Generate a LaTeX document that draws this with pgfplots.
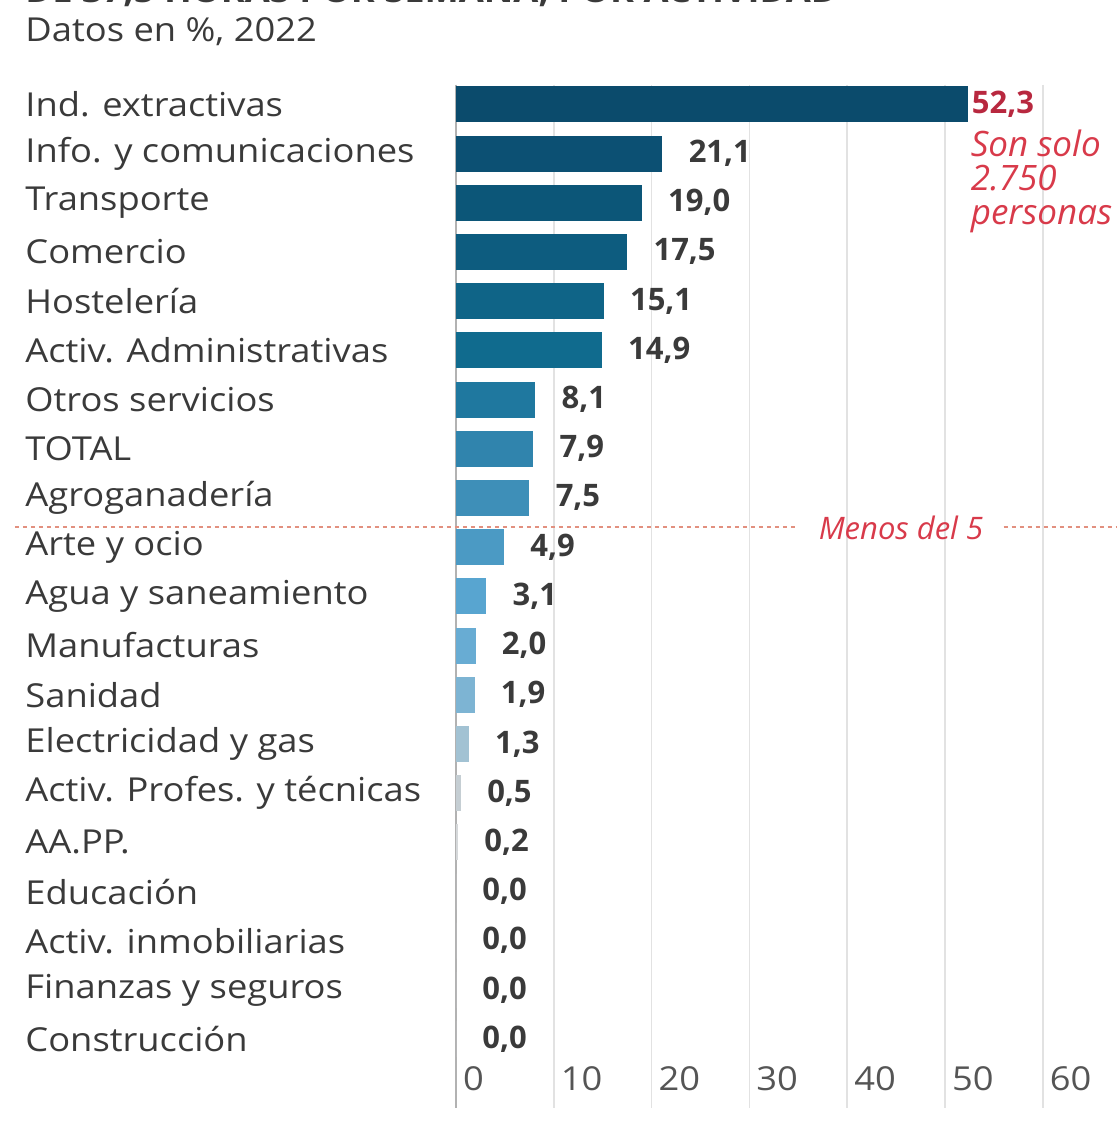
\documentclass[border=0pt]{standalone}
\usepackage{fontspec}
\setmainfont{Open Sans}
\newfontfamily\lab{Open Sans}[FakeStretch=1.1]
\usepackage{pgfplots}
\pgfplotsset{compat=1.18}

\definecolor{txt}{HTML}{3A3A3A}
\definecolor{tick}{HTML}{555555}
\definecolor{grd}{HTML}{E2E2E2}
\definecolor{redd}{HTML}{B8283F}
\definecolor{redl}{HTML}{D83A4A}
\definecolor{dashc}{HTML}{E2907F}
\definecolor{c0}{HTML}{0B4B6C}
\definecolor{c1}{HTML}{0C5073}
\definecolor{c2}{HTML}{0C5678}
\definecolor{c3}{HTML}{0D5C7F}
\definecolor{c4}{HTML}{0F6487}
\definecolor{c5}{HTML}{106B8E}
\definecolor{c6}{HTML}{1F789F}
\definecolor{c7}{HTML}{3084AD}
\definecolor{c8}{HTML}{3E8FB8}
\definecolor{c9}{HTML}{4B9AC4}
\definecolor{c10}{HTML}{58A5D0}
\definecolor{c11}{HTML}{68ACD3}
\definecolor{c12}{HTML}{7DB4D3}
\definecolor{c13}{HTML}{A2C2D3}
\definecolor{c14}{HTML}{C5CED3}
\definecolor{c15}{HTML}{D5D8DA}

% one bar per row, each with its own shade
\newcommand{\onebar}[3]{\addplot[fill=#3, draw=none] coordinates {(#2,#1)};}

\begin{document}
\begin{tikzpicture}
\useasboundingbox (0,0) rectangle (558.5pt,564pt);
\node[anchor=base west, inner sep=0, font=\lab\bfseries\fontsize{16.5}{16}\selectfont, text=txt]
  at (12.5pt,562.5pt) {DE 37,5 HORAS POR SEMANA, POR ACTIVIDAD};
\node[anchor=base west, inner sep=0, font=\lab\fontsize{16.5}{17}\selectfont, text=txt]
  at (12.5pt,543pt) {Datos en \%, 2022};

\begin{axis}[
  at={(228pt,10pt)}, anchor=south west,
  scale only axis,
  x=4.89pt, y=24.6pt,
  xmin=0, xmax=60, ymin=-0.4, ymax=20.4,
  y dir=reverse,
  xbar, bar width=18pt, bar shift=0pt,
  axis line style={draw=none},
  major tick length=0pt,
  xmajorgrids, grid style={grd, line width=0.8pt},
  xtick={0,10,...,60},
  ytick={0,...,19},
  yticklabels={Ind. extractivas, Info. y comunicaciones, Transporte, Comercio,
    Hostelería, Activ. Administrativas, Otros servicios, TOTAL, Agroganadería,
    Arte y ocio, Agua y saneamiento, Manufacturas, Sanidad, Electricidad y gas,
    Activ. Profes. y técnicas, AA.PP., Educación, Activ. inmobiliarias,
    Finanzas y seguros, Construcción},
  yticklabel style={anchor=west, xshift=-215.5pt, text=txt,
    font=\lab\fontsize{16.5}{17}\selectfont, inner sep=0pt},
  xticklabel style={anchor=base west, yshift=9pt, xshift=0pt, text=tick,
    font=\lab\fontsize{16.5}{17}\selectfont},
  /pgf/number format/assume math mode=true,
  point meta=x,
  nodes near coords={\pgfmathprintnumber[fixed,fixed zerofill,precision=1,use comma]{\pgfplotspointmeta}},
  every node near coord/.style={anchor=west, inner sep=0pt, xshift=13pt,
    font=\bfseries\fontsize{15.5}{16}\selectfont, text=txt},
  clip=false,
]
\draw[color=gray!60, line width=0.9pt] (axis cs:0,-0.4) -- (axis cs:0,20.4);
\addplot[fill=c0, draw=none, every node near coord/.append style={xshift=-11pt, text=redd}]
  coordinates {(52.3,0)};
\onebar{1}{21.1}{c1}
\onebar{2}{19.0}{c2}
\onebar{3}{17.5}{c3}
\onebar{4}{15.1}{c4}
\onebar{5}{14.9}{c5}
\onebar{6}{8.1}{c6}
\onebar{7}{7.9}{c7}
\onebar{8}{7.5}{c8}
\onebar{9}{4.9}{c9}
\onebar{10}{3.1}{c10}
\onebar{11}{2.0}{c11}
\onebar{12}{1.9}{c12}
\onebar{13}{1.3}{c13}
\onebar{14}{0.5}{c14}
\onebar{15}{0.2}{c15}
\onebar{16}{0.0}{c15}
\onebar{17}{0.0}{c15}
\onebar{18}{0.0}{c15}
\onebar{19}{0.0}{c15}

\node[anchor=north west, align=left, inner sep=0pt, text=redl,
  font=\itshape\fontsize{17.5}{16.8}\selectfont] at (axis cs:52.6,0.52)
  {Son solo\\2.750\\personas};
\draw[dashc, line width=1pt, dash pattern=on 2pt off 2pt]
  (axis cs:-45.1,8.6) -- (axis cs:35.0,8.6)
  (axis cs:56.0,8.6) -- (axis cs:67.7,8.6);
\node[text=redl, font=\itshape\fontsize{15.5}{16}\selectfont, inner sep=0pt]
  at (axis cs:45.5,8.6) {Menos del 5};
\end{axis}
\end{tikzpicture}
\end{document}
